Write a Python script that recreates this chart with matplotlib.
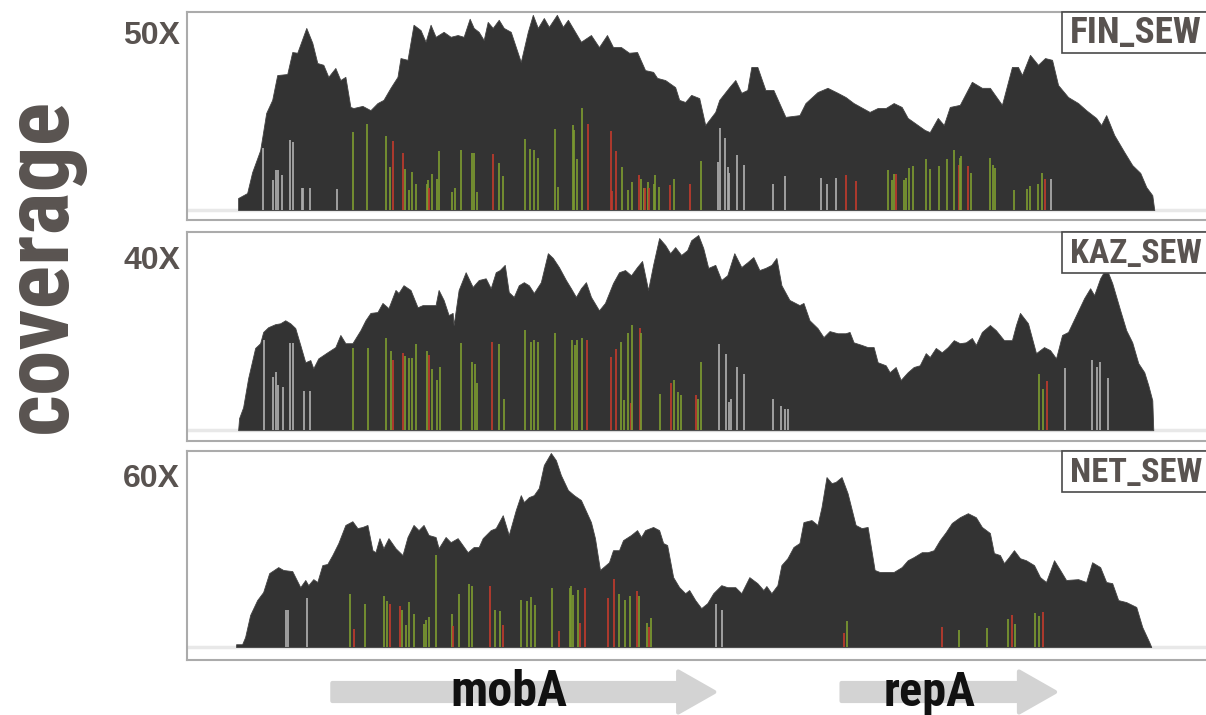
import matplotlib
matplotlib.use('Agg')
import matplotlib.pyplot as plt
from matplotlib import font_manager
from matplotlib.patches import Rectangle, FancyArrow

# pick a condensed face if one is installed
installed = {f.name for f in font_manager.fontManager.ttflist}
narrow = 'Liberation Sans'
for cand in ['Liberation Sans Narrow', 'Roboto Condensed', 'Open Sans Condensed',
             'DejaVu Sans Condensed']:
    if cand in installed:
        narrow = cand
        break
grey_txt = '#595350'

# ---- sequencing depth along the plasmid (position in bp) ----
fin_pos = [51, 51, 60, 65, 73, 79, 85, 90, 100, 105,
           110, 119, 125, 130, 136, 141, 148, 153, 158, 163,
           166, 175, 183, 190, 196, 203, 210, 213, 220, 226,
           233, 238, 243, 248, 256, 263, 270, 276, 282, 286,
           291, 296, 300, 305, 311, 316, 323, 333, 340, 345,
           350, 356, 361, 369, 375, 380, 393, 403, 411, 419,
           425, 433, 441, 449, 457, 465, 469, 477, 487, 491,
           497, 503, 511, 517, 527, 531, 541, 547, 553, 559,
           563, 569, 577, 585, 597, 611, 617, 629, 639, 649,
           657, 665, 681, 689, 697, 705, 713, 719, 729, 736,
           741, 749, 755, 761, 771, 783, 793, 801, 813, 823,
           829, 833, 841, 849, 856, 863, 869, 879, 889, 897,
           907, 912, 917, 925, 935, 943, 951, 957, 963, 965]
fin_cov = [0, 3.4, 4.8, 10.7, 16.9, 27.4, 31.1, 38.1, 38.4, 44.6,
           44.4, 51.4, 47.2, 41.5, 41.0, 37.6, 40.1, 36.7, 37.6, 29.1,
           28.8, 29.4, 28.2, 30.2, 31.1, 34.5, 37.6, 42.9, 42.4, 52.3,
           50.8, 47.5, 52.3, 48.9, 50.3, 48.9, 49.4, 48.9, 54.0, 51.4,
           50.3, 48.0, 53.1, 51.4, 53.7, 51.4, 50.3, 41.8, 50.3, 55.1,
           51.4, 54.2, 51.7, 55.1, 51.7, 53.7, 47.5, 49.4, 46.0, 49.4,
           46.0, 46.0, 44.4, 44.6, 39.5, 39.0, 37.3, 36.7, 34.7, 31.1,
           30.5, 32.5, 31.6, 24.0, 27.7, 31.1, 34.7, 36.7, 33.1, 33.9,
           40.4, 40.4, 33.9, 33.9, 26.3, 26.8, 30.2, 33.3, 34.5, 33.1,
           31.9, 30.2, 27.7, 28.8, 28.8, 30.2, 29.1, 26.0, 24.0, 22.6,
           22.0, 26.0, 24.0, 29.1, 29.7, 36.2, 34.5, 34.5, 29.7, 40.4,
           40.4, 38.1, 43.8, 41.0, 42.9, 42.4, 35.3, 31.9, 30.2, 28.2,
           26.0, 24.0, 26.8, 21.2, 16.4, 12.7, 10.5, 6.5, 4.2, 0]

kaz_pos = [51, 52, 56, 61, 68, 73, 76, 81, 88, 93,
           98, 103, 108, 113, 118, 123, 126, 131, 140, 148,
           153, 158, 165, 173, 178, 183, 190, 195, 201, 208,
           211, 216, 223, 230, 235, 248, 251, 256, 261, 265,
           266, 271, 278, 285, 291, 298, 303, 308, 312, 317,
           321, 326, 331, 336, 341, 346, 353, 360, 365, 371,
           378, 383, 388, 393, 398, 403, 411, 417, 425, 431,
           437, 443, 449, 454, 460, 465, 471, 477, 482, 487,
           493, 499, 503, 510, 515, 520, 527, 533, 539, 546,
           553, 559, 565, 571, 577, 583, 588, 593, 601, 611,
           615, 621, 629, 635, 641, 649, 657, 661, 665, 673,
           679, 685, 689, 697, 701, 707, 712, 719, 725, 731,
           737, 741, 747, 753, 759, 765, 771, 777, 783, 787,
           793, 801, 807, 815, 823, 827, 831, 839, 847, 855,
           861, 867, 873, 879, 887, 895, 901, 905, 911, 917,
           923, 931, 937, 943, 949, 955, 959, 963, 964]
kaz_cov = [0, 2.8, 5.3, 12.0, 19.0, 20.1, 22.7, 23.8, 24.5, 24.7,
           25.4, 24.7, 23.6, 19.7, 15.7, 16.2, 14.3, 16.6, 18.0, 19.2,
           22.0, 20.1, 20.1, 23.1, 25.4, 27.1, 27.3, 29.4, 28.2, 32.4,
           31.7, 33.5, 32.4, 28.4, 28.9, 28.9, 32.4, 30.1, 26.6, 27.1,
           24.3, 32.4, 36.5, 33.1, 34.7, 35.1, 32.8, 36.5, 37.0, 38.2,
           31.9, 30.8, 33.5, 34.2, 33.5, 31.7, 34.2, 40.9, 39.8, 37.7,
           34.7, 32.8, 30.8, 32.8, 34.2, 30.8, 27.7, 29.4, 34.0, 36.5,
           37.0, 35.8, 37.7, 39.1, 32.4, 38.2, 44.4, 42.8, 40.9, 42.3,
           40.5, 41.6, 43.9, 45.1, 42.1, 37.5, 38.2, 34.7, 35.8, 40.9,
           37.7, 38.8, 40.0, 37.0, 37.5, 38.2, 39.8, 33.5, 30.1, 28.9,
           29.4, 25.4, 23.6, 21.5, 22.9, 22.4, 22.4, 22.7, 20.3, 19.7,
           19.2, 19.2, 15.7, 15.0, 13.4, 14.6, 11.6, 13.4, 14.6, 15.0,
           17.8, 16.9, 19.0, 18.0, 19.2, 20.8, 20.1, 20.3, 21.3, 19.7,
           22.7, 24.3, 23.1, 20.8, 20.8, 24.3, 27.1, 24.7, 17.8, 19.2,
           18.5, 16.6, 22.0, 22.7, 26.6, 30.5, 32.8, 31.2, 35.1, 37.5,
           34.0, 27.7, 23.1, 20.3, 15.5, 13.4, 10.4, 6.9, 0]

net_pos = [49, 49, 55, 58, 63, 70, 76, 82, 91, 96,
           105, 113, 118, 121, 126, 130, 135, 140, 145, 151,
           158, 165, 170, 175, 180, 185, 188, 192, 196, 201,
           208, 215, 220, 226, 231, 236, 241, 248, 251, 258,
           263, 270, 280, 286, 291, 295, 303, 308, 315, 321,
           328, 333, 336, 341, 346, 351, 356, 363, 368, 373,
           380, 386, 393, 403, 407, 412, 421, 425, 431, 435,
           443, 449, 453, 457, 465, 471, 475, 479, 485, 491,
           497, 501, 507, 513, 519, 525, 533, 539, 547, 553,
           561, 569, 575, 578, 583, 589, 593, 599, 605, 611,
           615, 623, 629, 633, 638, 643, 647, 653, 659, 667,
           673, 679, 686, 691, 705, 713, 719, 725, 733, 739,
           745, 751, 757, 763, 771, 779, 787, 793, 801, 805,
           811, 815, 819, 825, 831, 837, 845, 851, 857, 865,
           871, 877, 889, 897, 903, 911, 917, 923, 929, 937,
           947, 953, 960, 962]
net_cov = [0, 1.0, 1.0, 3.5, 11.2, 16.4, 19.2, 25.8, 27.9, 26.9,
           26.5, 20.9, 23.4, 21.6, 23.7, 22.7, 28.6, 29.0, 32.1, 36.3,
           42.6, 43.9, 41.5, 41.9, 42.6, 33.8, 33.1, 38.0, 34.5, 38.0,
           34.5, 32.1, 38.4, 42.6, 40.8, 42.6, 39.1, 38.4, 34.5, 38.4,
           36.6, 38.0, 33.1, 34.9, 34.9, 38.0, 40.8, 41.5, 46.0, 39.1,
           47.8, 53.0, 50.6, 52.3, 53.0, 55.5, 63.5, 67.7, 65.2, 60.0,
           54.8, 53.0, 51.3, 43.6, 38.0, 26.9, 29.6, 33.8, 33.8, 37.3,
           39.1, 40.8, 38.4, 40.8, 41.9, 40.8, 36.3, 35.6, 24.4, 20.9,
           18.8, 19.9, 16.4, 13.6, 15.3, 18.8, 21.6, 20.9, 20.9, 18.8,
           24.4, 22.3, 19.9, 21.3, 18.8, 21.6, 28.6, 31.0, 34.9, 36.3,
           43.6, 44.3, 42.6, 48.8, 59.3, 57.2, 57.6, 59.3, 53.7, 42.6,
           41.5, 41.9, 26.9, 26.2, 26.2, 27.9, 30.3, 31.4, 33.1, 33.1,
           33.8, 37.3, 40.1, 43.3, 45.3, 46.7, 45.3, 41.9, 39.8, 32.8,
           32.1, 29.3, 31.0, 33.8, 31.0, 30.3, 28.6, 24.4, 22.7, 30.3,
           26.9, 23.4, 23.7, 22.7, 29.6, 27.9, 22.7, 22.3, 16.4, 15.7,
           14.0, 7.0, 1.7, 0]

# ---- variant sites: position, read depth of the variant, class ----
# g = synonymous, r = non-synonymous, n = outside coding sequence
fin_snp_pos = [76, 86, 89, 91, 95, 103, 106, 115, 116, 123, 150,
               166, 180, 199, 203, 206, 215, 217, 221, 224, 228,
               239, 240, 241, 244, 249, 251, 264, 267, 273, 284,
               286, 289, 305, 311, 315, 337, 342, 346, 350, 367,
               370, 385, 386, 389, 394, 400, 423, 424, 428, 434,
               440, 444, 451, 453, 456, 457, 460, 461, 466, 467,
               471, 482, 486, 502, 513, 530, 532, 537, 540, 541,
               549, 556, 585, 597, 633, 638, 647, 657, 667, 699,
               703, 705, 707, 715, 717, 720, 724, 737, 741, 750,
               758, 765, 770, 771, 772, 779, 782, 801, 804, 806,
               825, 838, 841, 849, 853, 856, 862]
fin_snp_dp = [17.4, 8.5, 11.3, 11.3, 9.9, 19.8, 19.3, 6.3, 6.3, 6.3, 5.9,
              22.1, 24.2, 20.9, 12.2, 19.5, 16.0, 11.6, 5.6, 10.8, 7.3,
              7.5, 8.5, 6.1, 10.1, 8.9, 16.7, 5.0, 6.3, 16.9, 16.2,
              16.2, 5.0, 15.8, 13.2, 9.6, 20.2, 17.2, 16.9, 14.8, 22.9,
              6.6, 24.0, 22.6, 14.3, 28.8, 24.2, 22.3, 5.4, 16.7, 12.2,
              5.6, 8.0, 9.9, 8.9, 6.3, 6.3, 8.0, 6.3, 7.5, 9.9,
              6.6, 7.1, 8.9, 7.3, 13.8, 13.6, 23.3, 20.4, 12.2, 10.4,
              15.5, 12.7, 7.5, 9.6, 9.1, 7.3, 9.1, 9.9, 8.2, 11.3,
              8.5, 10.1, 10.1, 8.5, 9.1, 11.9, 12.4, 14.3, 11.6, 12.4,
              14.3, 17.0, 12.7, 14.8, 15.3, 12.4, 10.4, 14.6, 12.7, 11.8,
              5.6, 5.9, 6.9, 7.5, 10.4, 8.7, 8.7]
fin_snp_cls = list('nnnnnnnnnnn'
                   'ggggrrgggg'
                   'ggrggggggg'
                   'ggrggggggg'
                   'gggggrrrrg'
                   'ggrggrgrgg'
                   'grgrgnnnnn'
                   'nnnnnnnrrg'
                   'ggrggggggg'
                   'ggrggrgggg'
                   'gggggrn')

kaz_snp_pos = [77, 86, 89, 91, 96, 103, 106, 117, 123,
               166, 181, 199, 204, 206, 215, 217, 221, 224, 228,
               239, 241, 244, 249, 252, 273, 284, 287, 289, 304,
               311, 316, 337, 343, 346, 350, 367, 384, 387, 389,
               394, 399, 423, 428, 433, 436, 440, 443, 444, 452,
               453, 472, 483, 486, 490, 493, 508, 510, 513,
               531, 538, 541, 543, 549, 556, 585, 593, 597, 600,
               850, 854, 858, 876, 903, 908, 911, 919]
kaz_snp_dp = [20.8, 12.3, 13.5, 10.4, 10.0, 20.2, 20.2, 9.0, 9.0,
              18.9, 19.1, 21.2, 18.3, 16.3, 17.9, 17.1, 16.6, 16.6, 19.9,
              18.3, 17.3, 14.1, 11.6, 14.6, 20.2, 15.8, 15.4, 10.9, 20.3,
              20.0, 7.1, 23.1, 20.3, 20.8, 20.3, 22.5, 20.8, 19.7, 20.8,
              21.4, 20.8, 17.0, 18.7, 20.4, 6.9, 22.5, 6.2, 24.3, 23.5,
              22.5, 8.3, 10.9, 11.6, 8.9, 8.2, 8.2, 7.3, 15.7,
              20.0, 17.6, 6.5, 7.3, 14.5, 12.9, 7.1, 5.5, 4.8, 4.8,
              12.9, 9.6, 11.3, 14.4, 16.2, 14.6, 15.8, 12.1]
kaz_snp_cls = list('nnnnnnnnn'
                   'ggggrrgggg'
                   'grgggggggr'
                   'gggggggggg'
                   'grrrgggrgr'
                   'ggrgggrgg'
                   'nnnnnnnnnn'
                   'ggrnnnnn')

net_snp_pos = [99, 101, 120, 163, 167, 178, 197, 200, 203, 212,
               214, 218, 221, 226, 236, 238, 241, 248, 264, 265,
               271, 281, 284, 302, 307, 312, 315, 333, 339, 343,
               347, 364, 371, 382, 383, 385, 390, 392, 397, 420,
               426, 431, 437, 442, 449, 451, 459, 461, 463, 528,
               534, 655, 658, 753, 770, 798, 819, 823, 826, 846,
               850, 854]
net_snp_dp = [13.1, 13.1, 17.0, 18.4, 6.2, 15.2, 17.9, 16.0, 15.0, 14.4,
              12.9, 7.7, 15.6, 11.5, 8.0, 9.4, 10.6, 32.1, 11.5, 7.3,
              18.4, 22.0, 21.3, 21.4, 13.1, 12.6, 7.7, 16.4, 16.0, 17.5,
              14.6, 20.5, 5.7, 20.5, 21.3, 18.1, 19.9, 8.3, 20.5, 17.0,
              23.9, 18.5, 16.6, 17.8, 19.6, 17.8, 8.3, 6.9, 10.0, 15.0,
              12.9, 4.8, 9.1, 6.9, 5.9, 6.5, 9.7, 11.2, 8.0, 12.0,
              10.8, 12.3]
net_snp_cls = list('nnngrgggrr'
                   'gggggggggr'
                   'gggrggrggg'
                   'ggrggggrrr'
                   'rgggrggrgn'
                   'nrgrgggrgg'
                   'gr')

samples = ['FIN_SEW', 'KAZ_SEW', 'NET_SEW']
profiles = [(fin_pos, fin_cov), (kaz_pos, kaz_cov), (net_pos, net_cov)]
snps = [(fin_snp_pos, fin_snp_dp, fin_snp_cls),
        (kaz_snp_pos, kaz_snp_dp, kaz_snp_cls),
        (net_snp_pos, net_snp_dp, net_snp_cls)]
depth_ticks = [50, 40, 60]
ylims = [(-2.8, 55.9), (-2.5, 45.8), (-4.5, 68.4)]

# ---- genes ----
gene_names = ['mobA', 'repA']
gene_start = [143, 651]
gene_end = [528, 868]
gene_label_x = [321, 741]

snp_colors = {'g': '#7b9a30', 'r': '#bf3a2d', 'n': '#adadad'}

W, H = 1206, 715
fig = plt.figure(figsize=(W / 100, H / 100), dpi=100)
renderer = fig.canvas.get_renderer()


def fit_width(txt, target_px, horizontal=True):
    # rescale a text so its ink spans the wanted number of pixels
    bb = txt.get_window_extent(renderer)
    cur = bb.width if horizontal else bb.height
    txt.set_fontsize(txt.get_fontsize() * target_px / cur)


left = 187 / W
width = 1 - left + 0.002
panel_px = [(12, 220), (232, 441), (451, 660)]
xmax = 1019

for i, (top, bot) in enumerate(panel_px):
    ax = fig.add_axes([left, 1 - bot / H, width, (bot - top) / H])
    pos, cov = profiles[i]
    ax.axhline(0, color='#e8e8e8', lw=2.5, zorder=1)
    ax.fill_between(pos, 0, cov, color='#333333', lw=0.6,
                    edgecolor='#444444', zorder=2)
    sp, sd, sc = snps[i]
    ax.vlines(sp, 0, sd, colors=[snp_colors[c] for c in sc],
              lw=1.35, alpha=0.92, zorder=3)
    ax.set_xlim(0, xmax)
    ax.set_ylim(*ylims[i])
    ax.set_xticks([])
    ax.set_yticks([depth_ticks[i]])
    ax.set_yticklabels(['%dX' % depth_ticks[i]], family='Liberation Sans',
                       fontsize=23, fontweight='bold', color=grey_txt)
    ax.tick_params(axis='y', length=0, pad=5)
    for s in ax.spines.values():
        s.set_color('#ababab')
        s.set_linewidth(1.5)
    # sample tag in the upper right corner
    ax.add_patch(Rectangle((0.8567, 0.805), 0.2, 0.195,
                           transform=ax.transAxes, fc='white',
                           ec='#4a4a4a', lw=1.2, zorder=5, clip_on=False))
    tag = ax.text(0.8645, 0.85, samples[i], transform=ax.transAxes,
                  ha='left', va='baseline', fontsize=25, fontweight='bold',
                  family=narrow, color=grey_txt, zorder=6)
    fit_width(tag, 132)

ylab = fig.text(42 / W, 1 - 265 / H, 'coverage', rotation=90, ha='center',
                va='center', fontsize=58, fontweight='bold', family=narrow,
                color=grey_txt)
fit_width(ylab, 335, horizontal=False)

# gene track
gax = fig.add_axes([left, 0, width, 50 / H])
gax.set_xlim(0, xmax)
gax.set_ylim(0, 50)
gax.axis('off')
gene_widths = [117, 92]
for name, s, e, lx, gw in zip(gene_names, gene_start, gene_end,
                              gene_label_x, gene_widths):
    gax.add_patch(FancyArrow(s + 2, 23, e - s - 4, 0, width=18,
                             head_width=41, head_length=36,
                             length_includes_head=True, fc='#d3d3d3',
                             ec='#d3d3d3', lw=3, joinstyle='round'))
    gt = gax.text(lx, 22, name, ha='center', va='center', fontsize=36,
                  fontweight='bold', family=narrow, color='#111111')
    fit_width(gt, gw)

fig.savefig('out.png', dpi=100)
